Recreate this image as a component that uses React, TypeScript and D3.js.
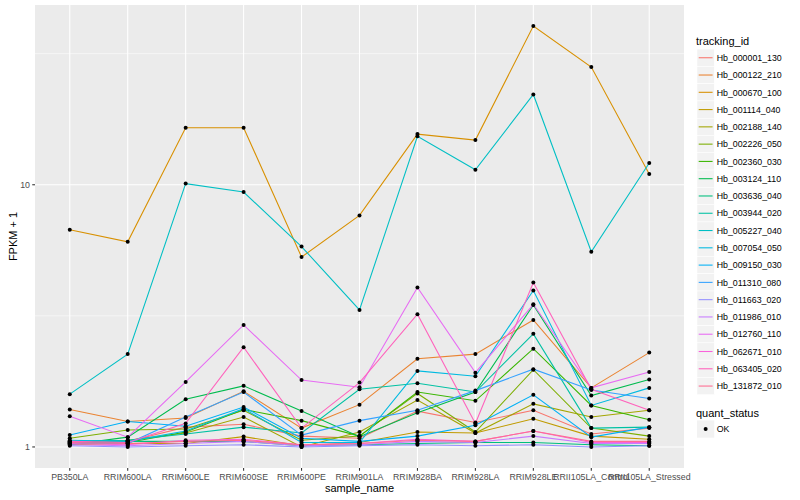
import React from 'react';
import * as d3 from 'd3';

// sample_name categories on the x axis
const sampleNames = [
  'PB350LA', 'RRIM600LA', 'RRIM600LE', 'RRIM600SE', 'RRIM600PE', 'RRIM901LA',
  'RRIM928BA', 'RRIM928LA', 'RRIM928LE', 'RRII105LA_Control', 'RRII105LA_Stressed',
];

// FPKM + 1 per tracking_id, one value per sample
const hb_000001_130 = [1.04, 1.05, 1.19, 1.22, 1.10, 1.08, 1.37, 1.24, 1.38, 1.12, 1.18];
const hb_000122_210 = [1.39, 1.25, 1.29, 1.63, 1.18, 1.45, 2.17, 2.26, 3.05, 1.68, 2.29];
const hb_000670_100 = [6.73, 6.06, 16.5, 16.5, 5.30, 7.64, 15.6, 14.8, 40.3, 28.1, 11.0];
const hb_001114_040 = [1.02, 1.03, 1.03, 1.095, 1.01, 1.04, 1.14, 1.13, 1.28, 1.10, 1.07];
const hb_002188_140 = [1.05, 1.06, 1.13, 1.30, 1.00, 1.14, 1.51, 1.13, 1.46, 1.30, 1.38];
const hb_002226_050 = [1.08, 1.16, 1.17, 1.38, 1.06, 1.10, 1.60, 1.14, 1.97, 1.18, 1.10];
const hb_002360_030 = [1.03, 1.04, 1.14, 1.39, 1.26, 1.10, 1.62, 1.50, 2.37, 1.44, 1.27];
const hb_003124_110 = [1.02, 1.09, 1.52, 1.71, 1.37, 1.095, 1.35, 1.62, 3.48, 1.57, 1.81];
const hb_003636_040 = [1.03, 1.05, 1.05, 1.05, 1.01, 1.02, 1.03, 1.04, 1.04, 1.02, 1.01];
const hb_003944_020 = [1.05, 1.06, 1.12, 1.19, 1.13, 1.66, 1.75, 1.62, 2.70, 1.18, 1.19];
const hb_005227_040 = [1.59, 2.26, 10.1, 9.38, 5.81, 3.33, 15.3, 11.4, 22.1, 5.55, 12.1];
const hb_007054_050 = [1.06, 1.05, 1.15, 1.40, 1.04, 1.04, 1.95, 1.86, 3.95, 1.44, 1.68];
const hb_009150_030 = [1.11, 1.25, 1.20, 1.42, 1.08, 1.05, 1.10, 1.21, 1.58, 1.09, 1.19];
const hb_011310_080 = [1.04, 1.03, 1.30, 1.62, 1.11, 1.26, 1.38, 1.64, 1.98, 1.65, 1.53];
const hb_011663_020 = [1.01, 1.00, 1.01, 1.02, 1.00, 1.01, 1.02, 1.01, 1.02, 1.00, 1.01];
const hb_011986_010 = [1.02, 1.01, 1.03, 1.05, 1.01, 1.02, 1.05, 1.04, 1.10, 1.03, 1.03];
const hb_012760_110 = [1.31, 1.09, 1.77, 2.92, 1.80, 1.69, 4.06, 1.92, 3.50, 1.68, 1.93];
const hb_062671_010 = [1.03, 1.02, 1.06, 1.07, 1.02, 1.03, 1.07, 1.05, 1.15, 1.04, 1.04];
const hb_063405_020 = [1.05, 1.04, 1.23, 2.40, 1.18, 1.76, 3.21, 1.23, 4.24, 1.66, 1.38];
const hb_131872_010 = [1.04, 1.03, 1.05, 1.06, 1.02, 1.03, 1.06, 1.05, 1.15, 1.05, 1.05];

const trackingIds = [
  'Hb_000001_130', 'Hb_000122_210', 'Hb_000670_100', 'Hb_001114_040', 'Hb_002188_140',
  'Hb_002226_050', 'Hb_002360_030', 'Hb_003124_110', 'Hb_003636_040', 'Hb_003944_020',
  'Hb_005227_040', 'Hb_007054_050', 'Hb_009150_030', 'Hb_011310_080', 'Hb_011663_020',
  'Hb_011986_010', 'Hb_012760_110', 'Hb_062671_010', 'Hb_063405_020', 'Hb_131872_010',
];

const seriesValues = [
  hb_000001_130, hb_000122_210, hb_000670_100, hb_001114_040, hb_002188_140,
  hb_002226_050, hb_002360_030, hb_003124_110, hb_003636_040, hb_003944_020,
  hb_005227_040, hb_007054_050, hb_009150_030, hb_011310_080, hb_011663_020,
  hb_011986_010, hb_012760_110, hb_062671_010, hb_063405_020, hb_131872_010,
];

const yBreaks = [1, 10];
const quantStatus = ['OK'];

// ggplot2 default hue palette for 20 levels
const huePalette = [
  '#F8766D', '#EA8331', '#D89000', '#C09B00', '#A3A500', '#7CAE00', '#39B600', '#00BB4E',
  '#00BF7D', '#00C1A3', '#00BFC4', '#00BAE0', '#00B0F6', '#35A2FF', '#9590FF', '#C77CFF',
  '#E76BF3', '#FA62DB', '#FF62BC', '#FF6C91',
];

const W = 800;
const H = 500;
const panel = { left: 35, right: 684, top: 5, bottom: 468 };
const font = '"Liberation Sans", Arial, Helvetica, sans-serif';

export default function App() {
  const series = trackingIds.map((id, i) => ({ id, values: seriesValues[i], color: huePalette[i] }));

  const x = d3.scalePoint<string>()
    .domain(sampleNames)
    .range([panel.left, panel.right])
    .padding(0.6);

  const all = series.flatMap(s => s.values);
  const lo = Math.log10(d3.min(all) as number);
  const hi = Math.log10(d3.max(all) as number);
  const pad = (hi - lo) * 0.05;
  const y = d3.scaleLog()
    .domain([Math.pow(10, lo - pad), Math.pow(10, hi + pad)])
    .range([panel.bottom, panel.top]);

  // minor breaks halfway (in log space) between majors
  const minor = [Math.sqrt(yBreaks[0] * yBreaks[1]), Math.sqrt(yBreaks[1] * yBreaks[1] * 10)];

  const line = d3.line<number>()
    .x((_, j) => x(sampleNames[j]) as number)
    .y(v => y(v));

  const keySize = 17.28;
  const legendX = 697;
  const keyTop = 49.1;

  return (
    <svg width={W} height={H} style={{ position: 'absolute', left: 0, top: 0, background: '#fff' }}
      fontFamily={font}>
      <rect x={panel.left} y={panel.top} width={panel.right - panel.left}
        height={panel.bottom - panel.top} fill="#EBEBEB" />
      {minor.map(v => (
        <line key={'mn' + v} x1={panel.left} x2={panel.right} y1={y(v)} y2={y(v)}
          stroke="#fff" strokeWidth={0.53} />
      ))}
      {yBreaks.map(v => (
        <line key={'mj' + v} x1={panel.left} x2={panel.right} y1={y(v)} y2={y(v)}
          stroke="#fff" strokeWidth={1.07} />
      ))}
      {sampleNames.map(s => (
        <line key={'vx' + s} x1={x(s)} x2={x(s)} y1={panel.top} y2={panel.bottom}
          stroke="#fff" strokeWidth={1.07} />
      ))}

      {series.map(s => (
        <path key={s.id} d={line(s.values) || ''} fill="none" stroke={s.color} strokeWidth={1.07} />
      ))}
      {series.map(s => s.values.map((v, j) => (
        <circle key={s.id + j} cx={x(sampleNames[j])} cy={y(v)} r={2} fill="#000" />
      )))}

      {/* y axis */}
      {yBreaks.map(v => (
        <g key={'yt' + v}>
          <line x1={panel.left - 2.75} x2={panel.left} y1={y(v)} y2={y(v)} stroke="#333" strokeWidth={1.07} />
          <text x={panel.left - 5} y={y(v) + 3.2} textAnchor="end" fontSize={8.8} fill="#4D4D4D">{v}</text>
        </g>
      ))}
      {/* x axis */}
      {sampleNames.map(s => (
        <g key={'xt' + s}>
          <line x1={x(s)} x2={x(s)} y1={panel.bottom} y2={panel.bottom + 2.75} stroke="#333" strokeWidth={1.07} />
          <text x={x(s)} y={panel.bottom + 12} textAnchor="middle" fontSize={8.8} fill="#4D4D4D">{s}</text>
        </g>
      ))}
      <text x={(panel.left + panel.right) / 2} y={492} textAnchor="middle" fontSize={11} fill="#000">sample_name</text>
      <text transform={`translate(17,${(panel.top + panel.bottom) / 2}) rotate(-90)`} textAnchor="middle"
        fontSize={11} fill="#000">FPKM + 1</text>

      {/* tracking_id legend */}
      <text x={696} y={44.5} fontSize={11} fill="#000">tracking_id</text>
      {series.map((s, i) => {
        const top = keyTop + i * keySize;
        return (
          <g key={'lg' + s.id}>
            <rect x={legendX} y={top} width={keySize} height={keySize} fill="#F2F2F2" stroke="#fff" strokeWidth={0.5} />
            <line x1={legendX + 1.7} x2={legendX + keySize - 1.7} y1={top + keySize / 2} y2={top + keySize / 2}
              stroke={s.color} strokeWidth={1.07} />
            <text x={716.7} y={top + keySize / 2 + 3.2} fontSize={8.8} fill="#000">{s.id}</text>
          </g>
        );
      })}

      {/* quant_status legend */}
      <text x={696} y={416.5} fontSize={11} fill="#000">quant_status</text>
      {quantStatus.map((q, i) => {
        const top = 420.4 + i * keySize;
        return (
          <g key={'qs' + q}>
            <rect x={legendX} y={top} width={keySize} height={keySize} fill="#F2F2F2" />
            <circle cx={legendX + keySize / 2} cy={top + keySize / 2} r={2} fill="#000" />
            <text x={716.7} y={top + keySize / 2 + 3.2} fontSize={8.8} fill="#000">{q}</text>
          </g>
        );
      })}
    </svg>
  );
}
